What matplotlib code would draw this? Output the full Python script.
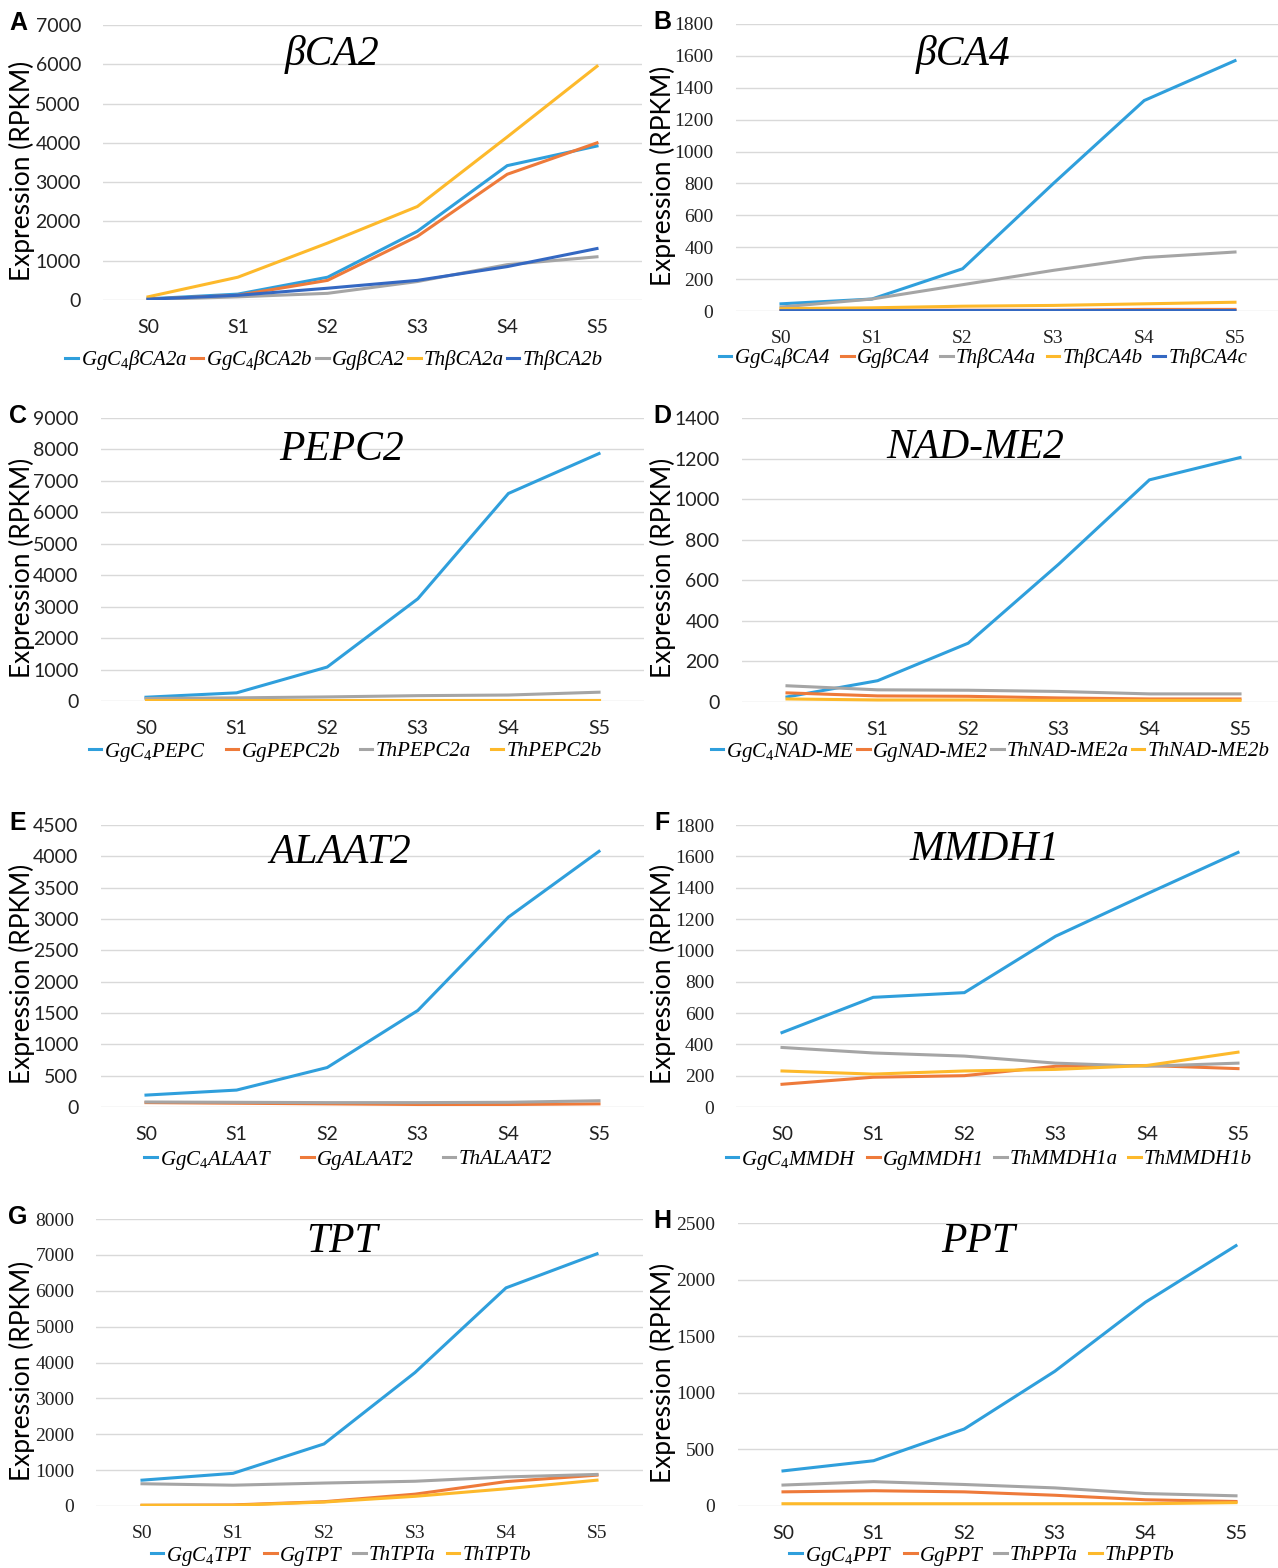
import matplotlib
matplotlib.use('Agg')
import matplotlib.pyplot as plt
from matplotlib.font_manager import FontProperties

plt.rcParams['mathtext.fontset'] = 'custom'
plt.rcParams['mathtext.rm'] = 'Liberation Serif'
plt.rcParams['mathtext.it'] = 'Liberation Serif:italic'

# developmental stages
stages = ['S0', 'S1', 'S2', 'S3', 'S4', 'S5']

# A  βCA2
bca2_names = ['GgC$_4$βCA2a', 'GgC$_4$βCA2b', 'GgβCA2', 'ThβCA2a', 'ThβCA2b']
bca2_values = [[30, 150, 580, 1750, 3420, 3920],
               [20, 120, 500, 1620, 3200, 4000],
               [10, 80, 170, 470, 900, 1100],
               [80, 580, 1450, 2380, 4150, 5950],
               [20, 120, 300, 500, 850, 1310]]

# B  βCA4
bca4_names = ['GgC$_4$βCA4', 'GgβCA4', 'ThβCA4a', 'ThβCA4b', 'ThβCA4c']
bca4_values = [[45, 75, 265, 800, 1320, 1570],
               [5, 5, 5, 5, 10, 10],
               [25, 75, 165, 255, 335, 370],
               [15, 20, 30, 35, 45, 55],
               [2, 2, 3, 3, 3, 3]]

# C  PEPC2
pepc2_names = ['GgC$_4$PEPC', 'GgPEPC2b', 'ThPEPC2a', 'ThPEPC2b']
pepc2_values = [[120, 260, 1080, 3250, 6600, 7870],
                [20, 20, 20, 20, 20, 20],
                [80, 100, 130, 170, 190, 280],
                [40, 40, 40, 40, 40, 40]]

# D  NAD-ME2
nadme2_names = ['GgC$_4$NAD-ME', 'GgNAD-ME2', 'ThNAD-ME2a', 'ThNAD-ME2b']
nadme2_values = [[25, 105, 290, 680, 1095, 1205],
                 [45, 30, 28, 20, 15, 15],
                 [80, 60, 58, 52, 40, 40],
                 [15, 10, 10, 8, 8, 8]]

# E  ALAAT2
alaat2_names = ['GgC$_4$ALAAT', 'GgALAAT2', 'ThALAAT2']
alaat2_values = [[190, 270, 630, 1540, 3030, 4080],
                 [70, 60, 50, 40, 40, 50],
                 [80, 75, 70, 70, 75, 100]]

# F  MMDH1
mmdh1_names = ['GgC$_4$MMDH', 'GgMMDH1', 'ThMMDH1a', 'ThMMDH1b']
mmdh1_values = [[475, 700, 730, 1090, 1360, 1625],
                [145, 190, 200, 260, 265, 245],
                [380, 345, 325, 280, 260, 280],
                [230, 210, 230, 240, 265, 350]]

# G  TPT
tpt_names = ['GgC$_4$TPT', 'GgTPT', 'ThTPTa', 'ThTPTb']
tpt_values = [[720, 910, 1730, 3720, 6080, 7030],
              [20, 30, 120, 330, 680, 860],
              [620, 580, 640, 690, 810, 880],
              [20, 20, 110, 270, 480, 720]]

# H  PPT
ppt_names = ['GgC$_4$PPT', 'GgPPT', 'ThPPTa', 'ThPPTb']
ppt_values = [[310, 400, 680, 1190, 1800, 2300],
              [125, 135, 125, 95, 55, 40],
              [185, 215, 190, 160, 110, 90],
              [20, 20, 20, 20, 20, 30]]

colors = ['#2F9FDC', '#EE7A3A', '#A5A5A5', '#FDB92B', '#3468C2']

W, H = 1278, 1568
fig = plt.figure(figsize=(W / 100, H / 100), dpi=100)

# panel layout in pixels: x of S0, x of S5, y of top gridline, y of zero line
panels = [
    dict(letter='A', title='βCA2', names=bca2_names, values=bca2_values, ymax=7000, step=1000,
         xs=(148, 597), ys=(25, 300), tfont='sans', xfont='sans', title_xy=(332, 55),
         leg_xy=(334, 360), colsp=0.15),
    dict(letter='B', title='βCA4', names=bca4_names, values=bca4_values, ymax=1800, step=200,
         xs=(781, 1235), ys=(24, 311), tfont='serif', xfont='serif', title_xy=(963, 55),
         leg_xy=(983, 358), colsp=0.5),
    dict(letter='C', title='PEPC2', names=pepc2_names, values=pepc2_values, ymax=9000, step=1000,
         xs=(146, 599), ys=(418, 701), tfont='sans', xfont='sans', title_xy=(342, 450),
         leg_xy=(345, 752), colsp=0.95),
    dict(letter='D', title='NAD-ME2', names=nadme2_names, values=nadme2_values, ymax=1400, step=200,
         xs=(787, 1240), ys=(418, 702), tfont='sans', xfont='sans', title_xy=(975, 448),
         leg_xy=(990, 752), colsp=0.15),
    dict(letter='E', title='ALAAT2', names=alaat2_names, values=alaat2_values, ymax=4500, step=500,
         xs=(146, 599), ys=(825, 1107), tfont='sans', xfont='sans', title_xy=(340, 853),
         leg_xy=(348, 1160), colsp=1.4),
    dict(letter='F', title='MMDH1', names=mmdh1_names, values=mmdh1_values, ymax=1800, step=200,
         xs=(782, 1238), ys=(825, 1107), tfont='serif', xfont='sans', title_xy=(985, 850),
         leg_xy=(989, 1160), colsp=0.5),
    dict(letter='G', title='TPT', names=tpt_names, values=tpt_values, ymax=8000, step=1000,
         xs=(142, 597), ys=(1219, 1506), tfont='serif', xfont='serif', title_xy=(342, 1242),
         leg_xy=(341, 1556), colsp=0.55),
    dict(letter='H', title='PPT', names=ppt_names, values=ppt_values, ymax=2500, step=500,
         xs=(783, 1236), ys=(1223, 1506), tfont='serif', xfont='sans', title_xy=(978, 1242),
         leg_xy=(982, 1556), colsp=0.55),
]

font_map = {'sans': 'Lato', 'serif': 'Liberation Serif'}
legend_font = FontProperties(family='Liberation Serif', style='italic', size=15)

for p in panels:
    x0, x5 = p['xs']
    ytop, ybot = p['ys']
    dx = (x5 - x0) / 5
    left = x0 - dx / 2
    right = min(x5 + dx / 2, W)
    ax = fig.add_axes([left / W, 1 - ybot / H, (right - left) / W, (ybot - ytop) / H])

    xpos = list(range(len(stages)))
    for i, (name, vals) in enumerate(zip(p['names'], p['values'])):
        ax.plot(xpos, vals, color=colors[i], lw=2.2, label=name, solid_joinstyle='miter')

    ax.set_xlim(-0.5, 5.5 - (x5 + dx / 2 - right) / dx)
    ax.set_ylim(0, p['ymax'])
    ax.set_yticks(range(0, p['ymax'] + 1, p['step']))
    ax.set_xticks(xpos)
    ax.set_xticklabels(stages)
    ax.grid(axis='y', color='#D9D9D9', lw=1)
    ax.set_axisbelow(True)
    for s in ax.spines.values():
        s.set_visible(False)
    ax.tick_params(length=0)
    ax.tick_params(axis='y', pad=16)
    ax.tick_params(axis='x', pad=14)
    for lab in ax.get_yticklabels():
        lab.set_family(font_map[p['tfont']])
        lab.set_fontsize(14)
        lab.set_color('#222222')
    for lab in ax.get_xticklabels():
        lab.set_family(font_map[p['xfont']])
        lab.set_fontsize(14)
        lab.set_color('#222222')

    # y axis title
    ylab_x = 22 if left < 400 else 663
    fig.text(ylab_x / W, 1 - ((ytop + ybot) / 2 + 8) / H, 'Expression (RPKM)',
             rotation=90, ha='center', va='center', family='Lato', fontsize=19)

    # gene name inside the plot
    fig.text(p['title_xy'][0] / W, 1 - p['title_xy'][1] / H, p['title'],
             ha='center', va='center', family='Liberation Serif', style='italic', fontsize=30)

    # panel letter
    let_x = 18 if left < 400 else 662
    fig.text(let_x / W, 1 - (ytop - 2) / H, p['letter'], ha='center', va='center',
             family='Liberation Sans', weight='bold', fontsize=18)

    ax.legend(loc='center', bbox_to_anchor=(p['leg_xy'][0] / W, 1 - p['leg_xy'][1] / H),
              bbox_transform=fig.transFigure, ncol=len(p['names']), frameon=False,
              prop=legend_font, handlelength=0.6, handletextpad=0.15,
              columnspacing=p['colsp'], borderpad=0)

fig.savefig('out.png', dpi=100, facecolor='white')
